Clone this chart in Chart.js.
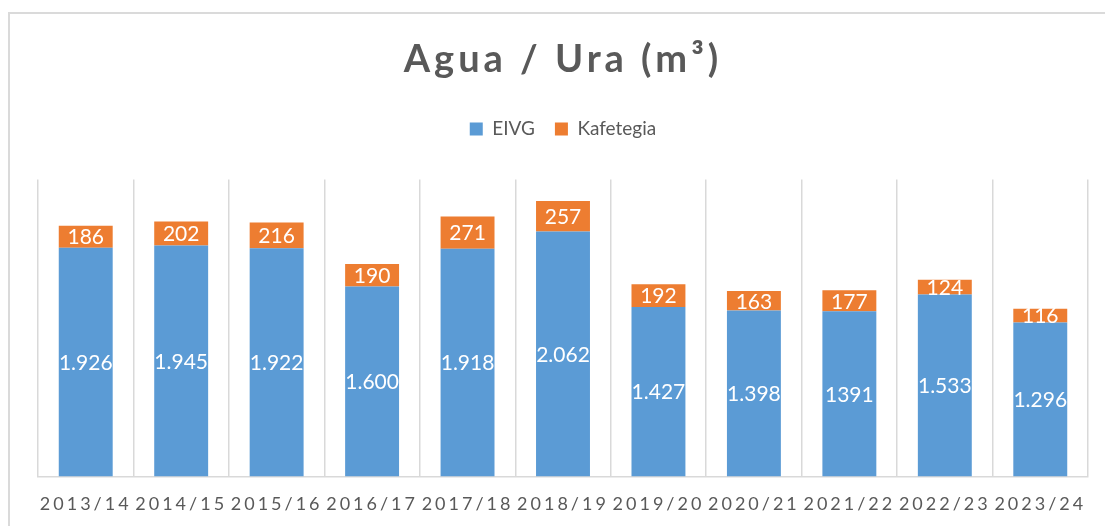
<!DOCTYPE html>
<html>
<head>
<meta charset="utf-8">
<script src="https://cdn.jsdelivr.net/npm/chart.js@4.4.1/dist/chart.umd.min.js"></script>
<style>
  html, body { margin: 0; padding: 0; background: #ffffff; overflow: hidden; width: 1105px; height: 526px; }
  #frame { position: absolute; left: 8px; top: 12px; width: 1200px; height: 600px; border-left: 2px solid #dadada; border-top: 2px solid #dadada; }
  #c { position: absolute; left: 0; top: 0; }
</style>
</head>
<body>
<div id="frame"></div>
<canvas id="c" width="1105" height="526"></canvas>
<script>
const categories = ["2013/14","2014/15","2015/16","2016/17","2017/18","2018/19","2019/20","2020/21","2021/22","2022/23","2023/24"];
const eivgValues = [1926,1945,1922,1600,1918,2062,1427,1398,1391,1533,1296];
const eivgLabels = ["1.926","1.945","1.922","1.600","1.918","2.062","1.427","1.398","1391","1.533","1.296"];
const kafeValues = [186,202,216,190,271,257,192,163,177,124,116];
const kafeLabels = ["186","202","216","190","271","257","192","163","177","124","116"];
const seriesNames = ["EIVG","Kafetegia"];
const titleText = "Agua / Ura (m³)";

const FONT = "Lato, 'Open Sans', sans-serif";
const GREY = "#595959";

const spacingPlugin = {
  id: 'spacing',
  beforeLayout(chart) {
    const lg = chart.legend;
    if (lg && !lg._patched) {
      const f = lg.fit.bind(lg);
      lg.fit = function() { f(); this.height += 31; };
      lg._patched = true;
    }
  },
  beforeDraw(chart) {
    const ctx = chart.ctx;
    const tb = chart.titleBlock;
    if (tb && !tb._patched) {
      const orig = tb.draw.bind(tb);
      tb.draw = function(area) { ctx.save(); ctx.letterSpacing = '4px'; orig(area); ctx.restore(); };
      tb._patched = true;
    }
    const xs = chart.scales.x;
    if (xs && !xs._patched) {
      const origL = xs.drawLabels.bind(xs);
      xs.drawLabels = function(area) { ctx.save(); ctx.letterSpacing = '3px'; origL(area); ctx.restore(); };
      xs._patched = true;
    }
  }
};

const labelPlugin = {
  id: 'barLabels',
  afterDatasetsDraw(chart) {
    const ctx = chart.ctx;
    const labelSets = [eivgLabels, kafeLabels];
    ctx.save();
    ctx.fillStyle = '#ffffff';
    ctx.font = "21px " + FONT;
    ctx.textAlign = 'center';
    ctx.textBaseline = 'middle';
    chart.data.datasets.forEach((ds, di) => {
      const meta = chart.getDatasetMeta(di);
      meta.data.forEach((bar, i) => {
        const p = bar.getProps(['x','y','base'], true);
        ctx.fillText(labelSets[di][i], p.x, (p.y + p.base) / 2 + 1);
      });
    });
    ctx.restore();
  }
};

new Chart(document.getElementById('c'), {
  type: 'bar',
  data: {
    labels: categories,
    datasets: [
      { label: seriesNames[0], data: eivgValues, backgroundColor: '#5B9BD5', borderWidth: 0 },
      { label: seriesNames[1], data: kafeValues, backgroundColor: '#ED7D31', borderWidth: 0 }
    ]
  },
  options: {
    responsive: false,
    animation: false,
    devicePixelRatio: 1,
    datasets: { bar: { categoryPercentage: 1.0, barPercentage: 0.565 } },
    layout: { padding: { left: 38, right: 17, top: 0, bottom: -6 } },
    plugins: {
      title: {
        display: true,
        text: titleText,
        color: GREY,
        font: { family: FONT, size: 38, weight: 'bold' },
        padding: { top: 37, bottom: 17 }
      },
      legend: {
        display: true,
        labels: {
          color: GREY,
          font: { family: FONT, size: 19 },
          boxWidth: 13,
          boxHeight: 13,
          padding: 20
        }
      },
      tooltip: { enabled: false }
    },
    scales: {
      x: {
        stacked: true,
        grid: { display: true, color: '#d9d9d9', lineWidth: 1.5, drawTicks: false, offset: true },
        border: { display: true, color: '#d9d9d9', width: 1.5 },
        ticks: { color: GREY, font: { family: FONT, size: 18 }, padding: 17, maxRotation: 0, autoSkip: false }
      },
      y: {
        stacked: true,
        display: false,
        min: 0,
        max: 2500
      }
    }
  },
  plugins: [spacingPlugin, labelPlugin]
});
</script>
</body>
</html>
